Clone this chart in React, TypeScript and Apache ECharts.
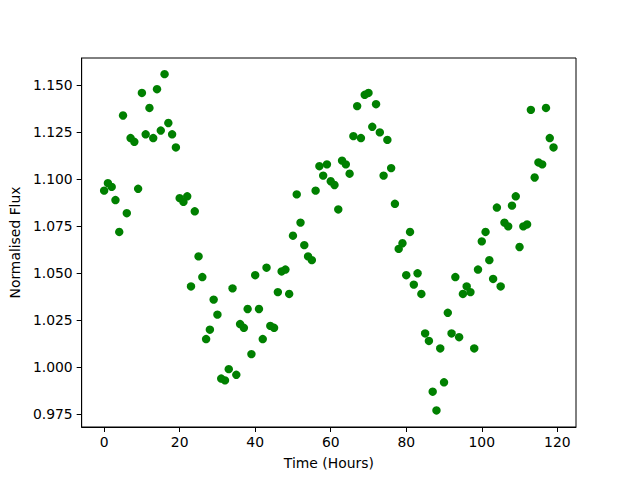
import React, { useEffect, useRef } from "react";
import * as echarts from "echarts";

const hours: number[] = [
  0, 1, 2, 3, 4, 5, 6, 7, 8, 9, 10, 11, 12, 13, 14, 15, 16, 17, 18, 19,
  20, 21, 22, 23, 24, 25, 26, 27, 28, 29, 30, 31, 32, 33, 34, 35, 36, 37, 38, 39,
  40, 41, 42, 43, 44, 45, 46, 47, 48, 49, 50, 51, 52, 53, 54, 55, 56, 57, 58, 59,
  60, 61, 62, 63, 64, 65, 66, 67, 68, 69, 70, 71, 72, 73, 74, 75, 76, 77, 78, 79,
  80, 81, 82, 83, 84, 85, 86, 87, 88, 89, 90, 91, 92, 93, 94, 95, 96, 97, 98, 99,
  100, 101, 102, 103, 104, 105, 106, 107, 108, 109, 110, 111, 112, 113, 114, 115, 116, 117, 118, 119,
];

const flux: number[] = [
  1.094, 1.098, 1.096, 1.089, 1.072, 1.134, 1.082, 1.122, 1.120, 1.095,
  1.146, 1.124, 1.138, 1.122, 1.148, 1.126, 1.156, 1.130, 1.124, 1.117,
  1.090, 1.088, 1.091, 1.043, 1.083, 1.059, 1.048, 1.015, 1.020, 1.036,
  1.028, 0.994, 0.993, 0.999, 1.042, 0.996, 1.023, 1.021, 1.031, 1.007,
  1.049, 1.031, 1.015, 1.053, 1.022, 1.021, 1.040, 1.051, 1.052, 1.039,
  1.070, 1.092, 1.077, 1.065, 1.059, 1.057, 1.094, 1.107, 1.102, 1.108,
  1.099, 1.097, 1.084, 1.110, 1.108, 1.103, 1.123, 1.139, 1.122, 1.145,
  1.146, 1.128, 1.140, 1.125, 1.102, 1.121, 1.106, 1.087, 1.063, 1.066,
  1.049, 1.072, 1.044, 1.050, 1.039, 1.018, 1.014, 0.987, 0.977, 1.010,
  0.992, 1.029, 1.018, 1.048, 1.016, 1.039, 1.043, 1.040, 1.010, 1.052,
  1.067, 1.072, 1.057, 1.047, 1.085, 1.043, 1.077, 1.075, 1.086, 1.091,
  1.064, 1.075, 1.076, 1.137, 1.101, 1.109, 1.108, 1.138, 1.122, 1.117,
];

const xTicks: number[] = [0, 20, 40, 60, 80, 100, 120];
const yTicks: number[] = [0.975, 1.0, 1.025, 1.05, 1.075, 1.1, 1.125, 1.15];

const FONT = "DejaVu Sans";

export default function App() {
  const ref = useRef<HTMLDivElement>(null);
  useEffect(() => {
    document.body.style.margin = "0";
    if (!ref.current) return;
    const chart = echarts.init(ref.current, null, { renderer: "svg" });
    const points = hours.map((h, i) => [h, flux[i]]);
    chart.setOption({
      animation: false,
      backgroundColor: "#ffffff",
      grid: {
        left: 80,
        right: 64,
        top: 58,
        bottom: 53,
        show: true,
        borderColor: "#000000",
        borderWidth: 1,
        backgroundColor: "transparent",
      },
      xAxis: {
        type: "value",
        min: -5.95,
        max: 124.95,
        name: "Time (Hours)",
        nameLocation: "middle",
        nameGap: 29,
        nameTextStyle: { fontFamily: FONT, fontSize: 13.9, color: "#000" },
        axisLine: { show: true, onZero: false, lineStyle: { color: "#000", width: 1 } },
        axisTick: {
          show: true,
          length: 5,
          inside: false,
          customValues: xTicks,
          lineStyle: { color: "#000", width: 1 },
        },
        axisLabel: {
          show: true,
          customValues: xTicks,
          margin: 8,
          fontFamily: FONT,
          fontSize: 13.9,
          color: "#000",
          formatter: (v: number) => String(v),
        },
        splitLine: { show: false },
      },
      yAxis: {
        type: "value",
        min: 0.9682,
        max: 1.1646,
        name: "Normalised Flux",
        nameLocation: "middle",
        nameGap: 56,
        nameRotate: 90,
        nameTextStyle: { fontFamily: FONT, fontSize: 13.9, color: "#000" },
        axisLine: { show: true, onZero: false, lineStyle: { color: "#000", width: 1 } },
        axisTick: {
          show: true,
          length: 5,
          inside: false,
          customValues: yTicks,
          lineStyle: { color: "#000", width: 1 },
        },
        axisLabel: {
          show: true,
          customValues: yTicks,
          margin: 9,
          fontFamily: FONT,
          fontSize: 13.9,
          color: "#000",
          formatter: (v: number) => v.toFixed(3),
        },
        splitLine: { show: false },
      },
      series: [
        {
          type: "scatter",
          data: points,
          symbol: "circle",
          symbolSize: 8.4,
          itemStyle: { color: "#008000", opacity: 1 },
          emphasis: { disabled: true },
        },
      ],
    });
    return () => chart.dispose();
  }, []);
  return <div ref={ref} style={{ width: 640, height: 480 }} />;
}
